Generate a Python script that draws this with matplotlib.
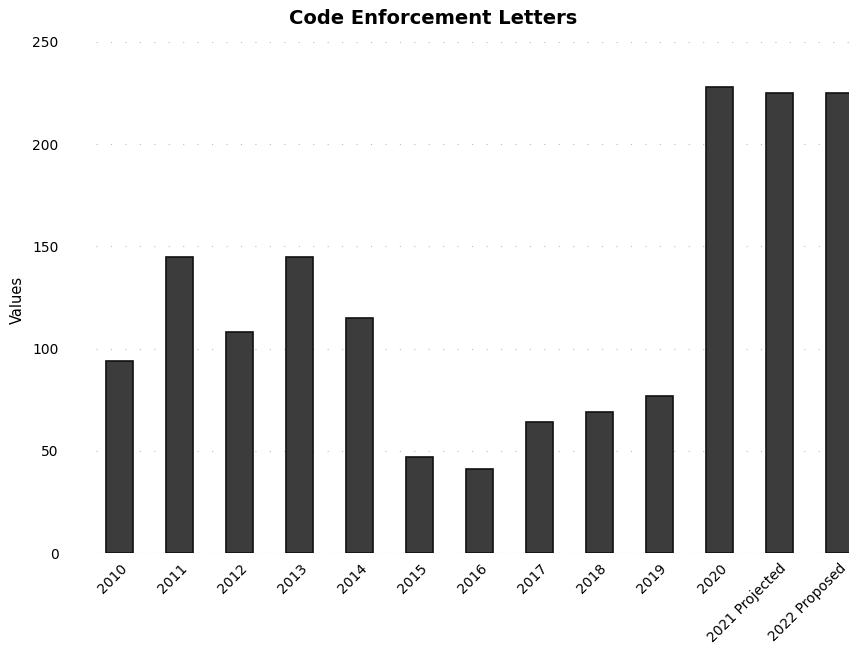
import matplotlib
matplotlib.use("Agg")
import matplotlib.pyplot as plt
import numpy as np

# values
categories = ["2010", "2011", "2012", "2013", "2014", "2015", "2016", "2017",
              "2018", "2019", "2020", "2021 Projected", "2022 Proposed"]
letters = [94, 145, 108, 145, 115, 47, 41, 64, 69, 77, 228, 225, 225]
y_ticks = [0, 50, 100, 150, 200, 250]

plt.rcParams['font.family'] = ['DejaVu Sans']

fig = plt.figure(figsize=(8.49, 6.53), dpi=100)
ax = fig.add_axes([0.113, 0.153, 0.904, 0.783])

x = np.arange(len(categories))
ax.bar(x, letters, width=0.45, color='#3c3c3c', edgecolor='#111111', linewidth=1.2, zorder=3)

ax.set_xlim(-0.4, len(categories) - 0.6)
ax.set_ylim(0, 250)
ax.set_yticks(y_ticks)
ax.set_xticks(x)
ax.set_xticklabels(categories, rotation=45, ha='right', rotation_mode='anchor', fontsize=10)
ax.tick_params(axis='y', labelsize=10, length=0, pad=27)
ax.tick_params(axis='x', length=0, pad=6)

# faint dotted grid, like the scan
ax.yaxis.grid(True, color='#bbbbbb', linestyle=(0, (1, 12)), linewidth=0.8, zorder=0)
for s in ax.spines.values():
    s.set_visible(False)
ax.axhline(0, color='#888888', linestyle=(0, (1, 3)), linewidth=0.8, zorder=1)

fig.text(0.021, 0.54, "Values", rotation=90, ha='center', va='center', fontsize=10.5)
fig.text(0.51, 0.972, "Code Enforcement Letters", ha='center', va='center',
         fontsize=14, fontweight='bold')

fig.savefig("out.png", dpi=100)
